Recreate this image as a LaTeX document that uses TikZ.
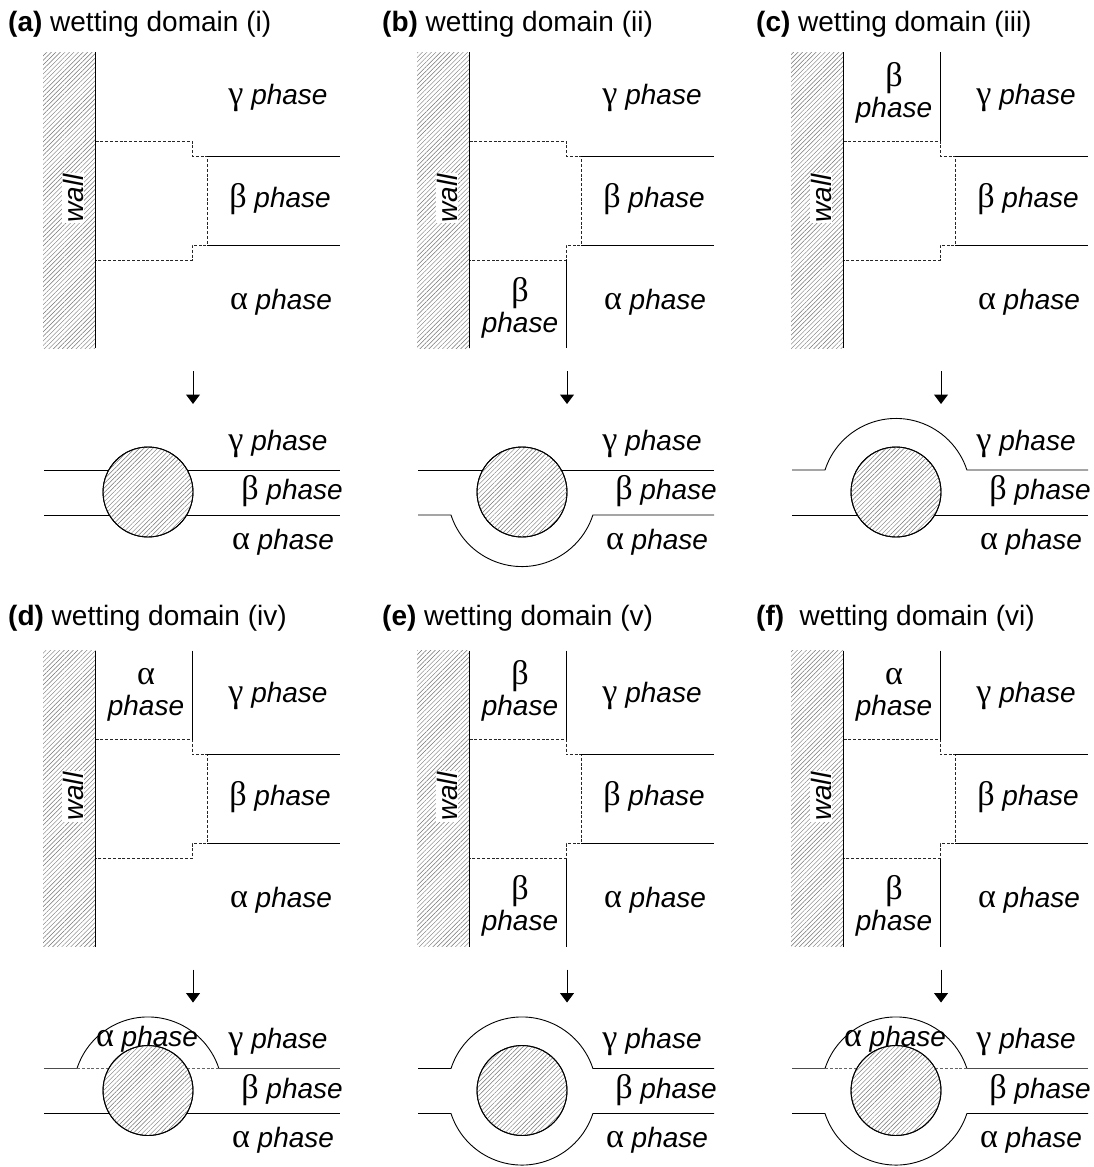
\documentclass[tikz,border=0pt]{standalone}
\usepackage{fontspec}
\setmainfont{Liberation Sans}
\newfontfamily\grk[Scale=1.22]{Liberation Serif}
\usetikzlibrary{patterns.meta,arrows.meta}
\newcommand{\phs}[1]{{\grk #1} \textit{phase}}
\tikzset{
  x=1pt,y=-1pt,
  bnd/.style={line width=0.9pt,black},
  dsh/.style={line width=0.8pt,black!85,dash pattern=on 3pt off 1.8pt},
  hat/.style={pattern={Lines[angle=45,distance=3.2pt,line width=0.45pt]},pattern color=black!55},
  ttl/.style={font=\fontsize{28}{32}\selectfont,anchor=base west,inner sep=0pt},
  lab/.style={font=\fontsize{28}{32}\selectfont,anchor=base,inner sep=0pt},
  flow/.style={line width=1pt,-{Triangle[length=9.5pt,width=14pt]}}
}
% common upper part: wall, dashed central domain, beta interfaces
\newcommand{\upperpart}{%
  \fill[hat] (43,52) rectangle (95.6,348);
  \draw[bnd] (95.6,52) -- (95.6,348);
  \node[font=\fontsize{28}{32}\selectfont,inner sep=1pt,fill=white,rotate=90] (wall) at (73,198) {\textit{wall}};
  \draw[dsh] (95.6,141) -- (192,141) -- (192,156) -- (207,156) -- (207,245) -- (192,245) -- (192,260) -- (95.6,260);
  \draw[bnd] (207,156) -- (340,156);
  \draw[bnd] (207,245) -- (340,245);
  \node[lab] (g) at (278,104) {\phs{γ}};
  \node[lab] (b) at (280,207) {\phs{β}};
  \node[lab] (a) at (281,309) {\phs{α}};
  \coordinate (arrS) at (193,371);
  \coordinate (arrE) at (193,404);
  \draw[flow] (arrS) -- (arrE);
}
\newcommand{\toplab}[1]{%
  \draw[bnd] (192.5,52) -- (192.5,141);
  \node[lab] (tg) at (146,86) {{\grk #1}};
  \node[lab] (tp) at (146,117) {\textit{phase}};
}
\newcommand{\botlab}[1]{%
  \draw[bnd] (192.5,260) -- (192.5,348);
  \node[lab] (bg) at (146,301) {{\grk #1}};
  \node[lab] (bp) at (146,332) {\textit{phase}};
}
% lower part pieces
\newcommand{\labelsLow}{%
  \node[lab] (lg) at (278,450) {\phs{γ}};
  \node[lab] (lb) at (292,499.5) {\phs{β}};
  \node[lab] (la) at (283,549) {\phs{α}};
}
\newcommand{\circlePart}{\filldraw[bnd,fill=white] (148,492) circle[radius=45];
  \path[hat] (148,492) circle[radius=45];
  \draw[bnd] (148,492) circle[radius=45];}
\newcommand{\topflat}{\draw[bnd] (44,470) -- (340,470);}
\newcommand{\botflat}{\draw[bnd] (44,515) -- (340,515);}
\newcommand{\toparc}{\draw[bnd] (44,470) -- (77,470) arc[start angle=198,end angle=342,x radius=74.6,y radius=74.6] -- (340,470);}
\newcommand{\botarc}{\draw[bnd] (44,515) -- (77,515) arc[start angle=162,end angle=18,x radius=74.6,y radius=74.6] -- (340,515);}
\newcommand{\toparcdash}{%
  \draw[bnd] (77,470) arc[start angle=198,end angle=342,x radius=74.6,y radius=74.6];
  \draw[bnd,black!70] (44,470) -- (77,470);
  \draw[bnd,black!70] (219,470) -- (340,470);
  \draw[dsh,black!60] (77,470) -- (219,470);
}
\begin{document}
\begin{tikzpicture}
\useasboundingbox (0,0) rectangle (1094,1167);
\fill[white] (0,0) rectangle (1094,1167);
% (a)
\begin{scope}[shift={(0,0)},name prefix=pa-]
  \node[ttl] (t) at (8,31) {\textbf{(a)} wetting domain (i)};
  \upperpart
  \topflat\botflat\circlePart\labelsLow
\end{scope}
% (b)
\begin{scope}[shift={(374,0)},name prefix=pb-]
  \node[ttl] (t) at (8,31) {\textbf{(b)} wetting domain (ii)};
  \upperpart\botlab{β}
  \topflat\botarc\circlePart\labelsLow
\end{scope}
% (c)
\begin{scope}[shift={(748,0)},name prefix=pc-]
  \node[ttl] (t) at (8,31) {\textbf{(c)} wetting domain (iii)};
  \upperpart\toplab{β}
  \toparc\botflat\circlePart\labelsLow
\end{scope}
% (d)
\begin{scope}[shift={(0,598.5)},name prefix=pd-]
  \node[ttl] (t) at (8,27) {\textbf{(d)} wetting domain (iv)};
  \upperpart\toplab{α}
  \toparcdash\botflat\circlePart\labelsLow
  \node[lab] (ta) at (147,447.5) {\phs{α}};
\end{scope}
% (e)
\begin{scope}[shift={(374,598.5)},name prefix=pe-]
  \node[ttl] (t) at (8,27) {\textbf{(e)} wetting domain (v)};
  \upperpart\toplab{β}\botlab{β}
  \toparc\botarc\circlePart\labelsLow
\end{scope}
% (f)
\begin{scope}[shift={(748,598.5)},name prefix=pf-]
  \node[ttl] (t) at (8,27) {\textbf{(f)}\ \ wetting domain (vi)};
  \upperpart\toplab{α}\botlab{β}
  \toparcdash\botarc\circlePart\labelsLow
  \node[lab] (ta) at (147,447.5) {\phs{α}};
\end{scope}
\end{tikzpicture}
\end{document}
